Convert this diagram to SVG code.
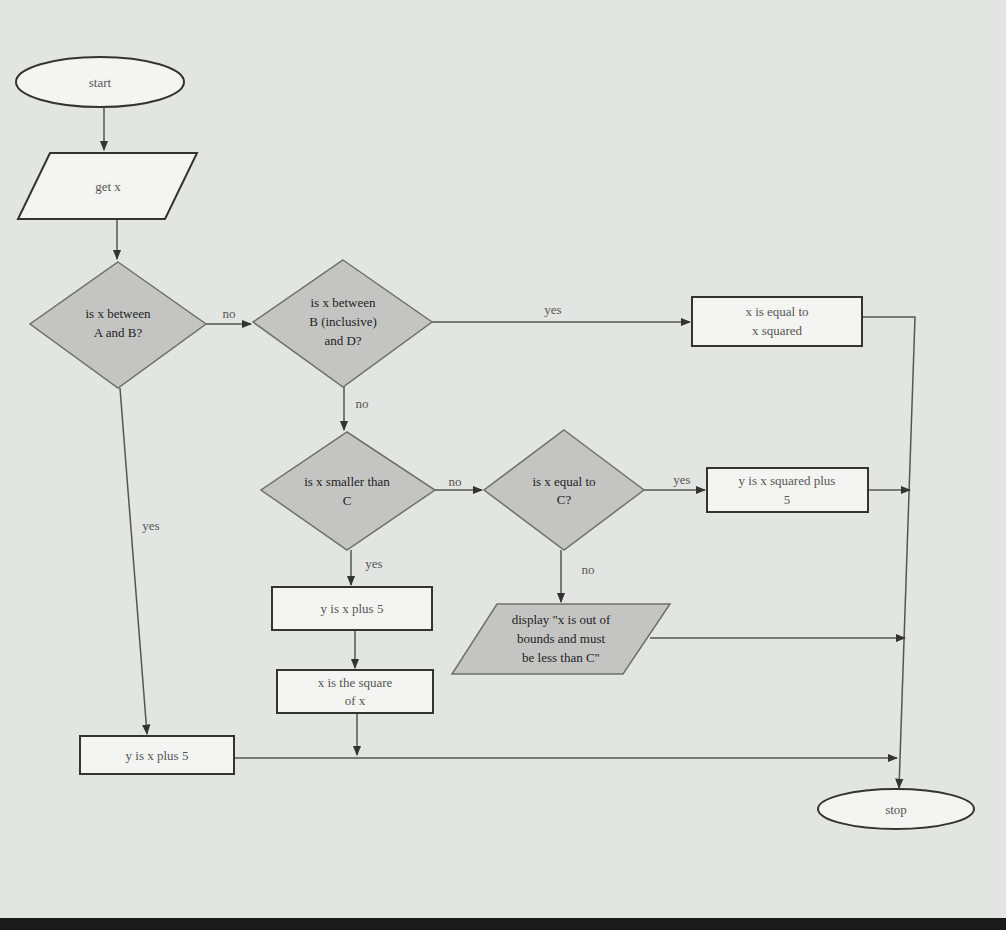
<svg xmlns="http://www.w3.org/2000/svg" width="1006" height="930" viewBox="0 0 1006 930">
<defs>
<style>
.n{fill:#c4c5c3;stroke:#6e706e;stroke-width:1.5}
.w{fill:#f4f5f3;stroke:#333;stroke-width:2}
.t{font-family:"Liberation Serif",serif;font-size:13px;fill:#222;text-anchor:middle}
.l{font-family:"Liberation Serif",serif;font-size:13px;fill:#555;text-anchor:middle}
.c{fill:none;stroke:#555;stroke-width:1.5}
</style>
<marker id="a" viewBox="0 0 10 10" refX="9" refY="5" markerWidth="7" markerHeight="7" orient="auto"><path d="M0,1L10,5L0,9z" fill="#333"/></marker>
</defs>
<rect width="1006" height="930" fill="#e3e5e2"/>
<rect y="918" width="1006" height="12" fill="#1a1a1a"/>
<g id="connectors">
<path class="c" d="M104,108V150" marker-end="url(#a)"/>
<path class="c" d="M117,219V259" marker-end="url(#a)"/>
<path class="c" d="M206,324H251" marker-end="url(#a)"/>
<path class="c" d="M432,322H690" marker-end="url(#a)"/>
<path class="c" d="M344,387V430" marker-end="url(#a)"/>
<path class="c" d="M435,490H482" marker-end="url(#a)"/>
<path class="c" d="M644,490H705" marker-end="url(#a)"/>
<path class="c" d="M351,550V585" marker-end="url(#a)"/>
<path class="c" d="M561,550V602" marker-end="url(#a)"/>
<path class="c" d="M355,630V668" marker-end="url(#a)"/>
<path class="c" d="M357,713V755" marker-end="url(#a)"/>
<path class="c" d="M120,388L147,734" marker-end="url(#a)"/>
<path class="c" d="M862,317H915L899,788" marker-end="url(#a)"/>
<path class="c" d="M868,490H910" marker-end="url(#a)"/>
<path class="c" d="M650,638H905" marker-end="url(#a)"/>
<path class="c" d="M234,758H897" marker-end="url(#a)"/>
<text class="l" x="229" y="318">no</text>
<text class="l" x="553" y="314">yes</text>
<text class="l" x="362" y="408">no</text>
<text class="l" x="455" y="486">no</text>
<text class="l" x="682" y="484">yes</text>
<text class="l" x="374" y="568">yes</text>
<text class="l" x="588" y="574">no</text>
<text class="l" x="151" y="530">yes</text>
</g>
<g id="start"><ellipse class="w" cx="100" cy="82" rx="84" ry="25"/><text class="l" x="100" y="87">start</text></g>
<g id="getx"><polygon class="w" points="50,153 197,153 165,219 18,219"/><text class="l" x="108" y="191">get x</text></g>
<g id="d1"><polygon class="n" points="118,262 206,324 118,388 30,324"/><text class="t" x="118" y="318">is x between</text><text class="t" x="118" y="337">A and B?</text></g>
<g id="d2"><polygon class="n" points="343,260 432,322 343,387 253,322"/><text class="t" x="343" y="307">is x between</text><text class="t" x="343" y="326">B (inclusive)</text><text class="t" x="343" y="345">and D?</text></g>
<g id="b1"><rect class="w" x="692" y="297" width="170" height="49"/><text class="l" x="777" y="316">x is equal to</text><text class="l" x="777" y="335">x squared</text></g>
<g id="d3"><polygon class="n" points="347,432 435,490 347,550 261,490"/><text class="t" x="347" y="486">is x smaller than</text><text class="t" x="347" y="505">C</text></g>
<g id="d4"><polygon class="n" points="564,430 644,490 564,550 484,490"/><text class="t" x="564" y="486">is x equal to</text><text class="t" x="564" y="504">C?</text></g>
<g id="b2"><rect class="w" x="707" y="468" width="161" height="44"/><text class="l" x="787" y="485">y is x squared plus</text><text class="l" x="787" y="504">5</text></g>
<g id="b3"><rect class="w" x="272" y="587" width="160" height="43"/><text class="l" x="352" y="613">y is x plus 5</text></g>
<g id="p2"><polygon class="n" points="497,604 670,604 623,674 452,674"/><text class="t" x="561" y="624">display "x is out of</text><text class="t" x="561" y="643">bounds and must</text><text class="t" x="561" y="662">be less than C"</text></g>
<g id="b4"><rect class="w" x="277" y="670" width="156" height="43"/><text class="l" x="355" y="687">x is the square</text><text class="l" x="355" y="705">of x</text></g>
<g id="b5"><rect class="w" x="80" y="736" width="154" height="38"/><text class="l" x="157" y="760">y is x plus 5</text></g>
<g id="stop"><ellipse class="w" cx="896" cy="809" rx="78" ry="20"/><text class="l" x="896" y="814">stop</text></g>
</svg>
